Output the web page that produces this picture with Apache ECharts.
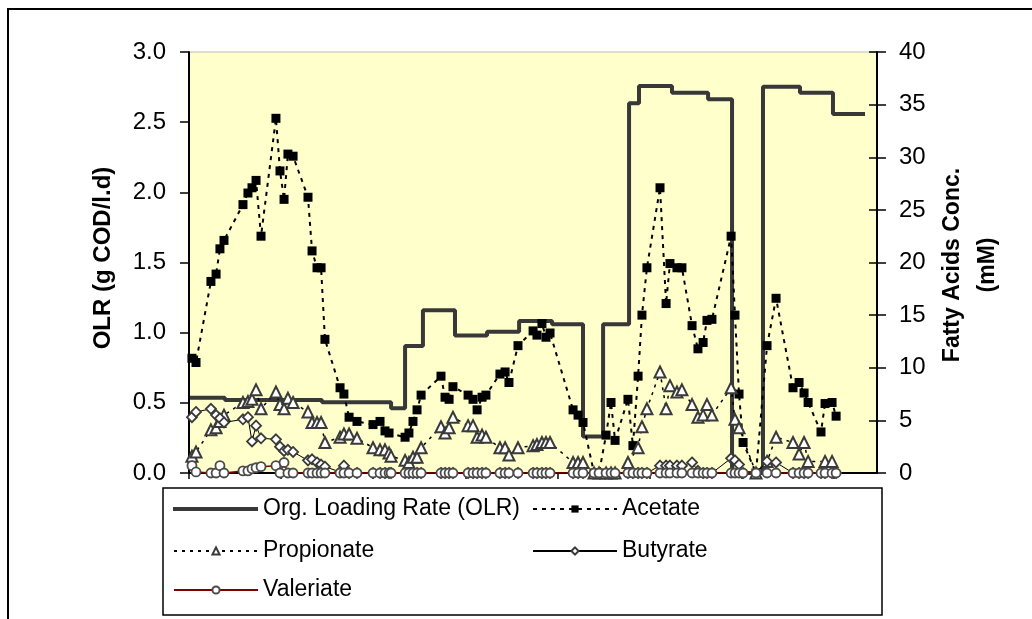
<!DOCTYPE html>
<html><head><meta charset="utf-8">
<script src="https://cdn.jsdelivr.net/npm/echarts@6/dist/echarts.min.js"></script>
<style>html,body{margin:0;padding:0;background:#fff}#c{width:1032px;height:619px}</style>
</head><body><div id="c"></div>
<script>
// Sampling days (x) shared by all fatty-acid series
const sampleDays = [1.6,3.8,11.9,14.7,16.8,19.0,29.3,32.0,34.2,36.4,39.1,47.2,49.4,51.6,53.7,56.5,64.6,66.8,69.5,71.7,
  73.8,82.0,84.1,86.9,91.2,99.9,103.7,106.4,108.6,109.7,117.3,119.4,121.6,123.8,126.0,136.8,139.0,141.2,143.3,151.5,
  154.2,156.4,159.1,161.2,168.8,171.6,173.7,178.6,186.8,188.9,191.6,193.8,196.0,208.5,211.2,213.9,219.9,222.6,226.4,229.1,
  231.3,238.3,241.0,243.8,245.9,248.6,255.7,259.0,261.1,264.9,267.6,273.1,276.3,279.1,281.2,283.9,294.3,296.4,298.6,300.8,
  307.8,313.8,318.7,327.9,331.2,333.9,336.1,343.1,345.3,349.1,351.3];
const acetate = [10.9,10.5,18.2,18.9,21.3,22.1,25.5,26.6,27.1,27.8,22.5,33.7,28.7,26.0,30.3,30.1,26.2,21.1,19.5,19.5,
  12.7,8.1,7.5,5.3,4.9,4.6,4.9,4.0,3.8,null,3.4,3.8,4.9,6.0,7.4,9.2,7.2,7.0,8.2,7.4,
  7.0,6.0,7.2,7.4,9.4,9.6,8.6,12.1,13.5,13.1,14.2,12.9,13.3,6.0,5.5,4.8,0,0,3.6,6.7,
  3.1,7.0,2.6,9.2,15.0,19.5,27.1,16.1,19.9,19.5,19.5,14.0,11.8,12.4,14.5,14.6,22.5,15.0,7.5,2.9,
  0,12.1,16.6,8.1,8.6,7.6,6.7,3.9,6.6,6.7,5.4];
const propionate = [1.6,2.0,4.1,4.3,4.9,5.5,6.7,6.8,7.0,7.9,6.1,7.7,6.5,6.1,7.1,6.7,5.8,4.8,4.8,4.8,
  2.9,3.4,3.7,3.7,3.3,2.4,2.2,2.2,1.9,1.6,1.2,1.0,1.5,1.5,2.4,4.4,3.8,4.3,5.3,4.5,
  4.5,3.4,3.6,3.4,2.4,2.4,1.7,2.4,2.6,2.7,2.9,2.9,2.9,1.0,1.0,1.0,0,0,0,0,
  0,1.0,null,2.4,4.4,6.1,9.6,6.1,8.3,7.7,7.9,6.5,5.3,5.5,6.5,5.5,8.1,5.1,4.3,null,
  0,1.1,3.4,2.9,1.8,2.9,1.1,null,1.1,1.1,null];
const butyrate = [5.3,5.8,6.1,5.5,5.2,4.8,5.1,5.3,3.0,4.5,3.3,3.2,2.5,2.1,2.2,2.0,1.2,1.3,1.0,0.8,
  0.6,0.1,0.7,0,0,0,0,0,0,0,0,0,0,0,0,0,0,0,0,0,
  0,0,0,0,0,0,0,0,0,0,0,0,0,0,0,0,0,0,0,0,
  0,0,0,0,0,0,0.7,0.7,0.7,0.7,0.7,1.0,0.2,0,0,0,1.4,1.2,0.8,0,
  0,1.1,1.0,0,0,0,0,0,0,0,0];
const valeriate = [0.7,0.1,0,0,0.7,0,0.2,0.2,0.4,0.5,0.6,0.7,0,1.0,0,0,0,0,0,0,
  0,0,0,0,0,0,0,0,0,0,0,0,0,0,0,0,0,0,0,0,
  0,0,0,0,0,0,0,0,0,0,0,0,0,0,0,0,0,0,0,0,
  0,0,0,0,0,0,0,0,0,0,0,0,0,0,0,0,0,0,0,0,
  0,0,0,0,0,0,0,0,0,0,0];
// Organic loading rate step profile (segment start days, g COD/l.d)
const olrDays = [0.5,19.5,72.2,109.7,117.3,127.0,144.4,161.8,179.2,197.1,213.9,224.8,238.9,244.3,262.2,281.8,294.8,311.6,331.7,349.6,367.0];
const olrValues = [0.537,0.52,0.504,0.461,0.905,1.16,0.98,1.007,1.083,1.06,0.26,1.06,2.634,2.757,2.71,2.663,0,2.753,2.71,2.558,2.558];
const xTickDays = [0,50,100,150,200,250,300,350];
const names = ['Org. Loading Rate (OLR)','Acetate','Propionate','Butyrate','Valeriate'];

const zip = (xs, ys) => xs.map((x, i) => [x, ys[i]]);
const FONT = 'Liberation Sans';
const chart = echarts.init(document.getElementById('c'), null, {renderer: 'canvas'});
const legendText = {fontSize: 23, fontFamily: FONT, color: '#000', lineHeight: 26};
const mkLegend = (name, left, top, extra) => Object.assign({
  data: [name], left: left, top: top, orient: 'horizontal', padding: 0,
  itemWidth: 84, itemHeight: 9, selectedMode: false, textStyle: legendText
}, extra || {});

chart.setOption({
  animation: false,
  backgroundColor: '#fff',
  grid: {left: 189, right: 155, top: 52, bottom: 146, show: true, backgroundColor: '#FFFFCC', borderColor: '#bdbdbd', borderWidth: 1},
  xAxis: {
    type: 'value', min: 0, max: 373.5,
    axisLine: {show: true, onZero: false, lineStyle: {color: '#000', width: 2}},
    axisTick: {show: true, length: 6, customValues: xTickDays, lineStyle: {color: '#000', width: 1.5}},
    axisLabel: {show: false}, splitLine: {show: false}
  },
  yAxis: [
    {type: 'value', position: 'left', min: 0, max: 3, interval: 0.5,
     axisLine: {show: true, lineStyle: {color: '#000', width: 2}},
     axisTick: {show: true, length: 9, lineStyle: {color: '#000', width: 1.5}},
     axisLabel: {fontSize: 24, fontFamily: FONT, color: '#000', margin: 23, formatter: v => v.toFixed(1)},
     splitLine: {show: false}},
    {type: 'value', position: 'right', min: 0, max: 40, interval: 5,
     axisLine: {show: true, lineStyle: {color: '#000', width: 2}},
     axisTick: {show: true, length: 9, lineStyle: {color: '#000', width: 1.5}},
     axisLabel: {fontSize: 24, fontFamily: FONT, color: '#000', margin: 22},
     splitLine: {show: false}},
    {type: 'value', position: 'right', min: 0, max: 40, interval: 5,
     axisLine: {show: false},
     axisTick: {show: true, inside: true, length: 8, lineStyle: {color: '#000', width: 1.5}},
     axisLabel: {show: false}, splitLine: {show: false}}
  ],
  legend: [
    mkLegend(names[0], 173, 496, {data: [{name: names[0], icon: 'rect'}], itemWidth: 85, itemHeight: 4}),
    mkLegend(names[1], 532, 496),
    mkLegend(names[2], 173, 538),
    mkLegend(names[3], 532, 538),
    mkLegend(names[4], 173, 577)
  ],
  series: [
    {name: names[0], type: 'line', yAxisIndex: 0, step: 'end', showSymbol: false, symbol: 'none',
     data: zip(olrDays, olrValues), lineStyle: {color: '#383838', width: 4}, itemStyle: {color: '#383838'}, z: 2},
    {name: names[1], type: 'line', yAxisIndex: 1, connectNulls: true, symbol: 'rect', symbolSize: 9,
     data: zip(sampleDays, acetate), lineStyle: {color: '#000', width: 2, type: [4, 5]},
     itemStyle: {color: '#000', borderColor: '#000', borderWidth: 0}, z: 3},
    {name: names[2], type: 'line', yAxisIndex: 1, connectNulls: true, symbol: 'triangle', symbolSize: 11,
     data: zip(sampleDays, propionate), lineStyle: {color: '#000', width: 1.5, type: [3, 5]},
     itemStyle: {color: '#fff', borderColor: '#3a3a3a', borderWidth: 2}, z: 4},
    {name: names[3], type: 'line', yAxisIndex: 1, symbol: 'diamond', symbolSize: 10,
     data: zip(sampleDays, butyrate), lineStyle: {color: '#000', width: 1},
     itemStyle: {color: '#fff', borderColor: '#3a3a3a', borderWidth: 1.8}, z: 5},
    {name: names[4], type: 'line', yAxisIndex: 1, symbol: 'circle', symbolSize: 9,
     data: zip(sampleDays, valeriate), lineStyle: {color: '#800000', width: 1.5},
     itemStyle: {color: '#fff', borderColor: '#4a4a4a', borderWidth: 1.8}, z: 6}
  ],
  graphic: [
    {type: 'rect', silent: true, z: -1, shape: {x: 8, y: 9, width: 1200, height: 800}, style: {fill: 'none', stroke: '#000', lineWidth: 2}},
    {type: 'rect', silent: true, shape: {x: 163, y: 488, width: 719, height: 127}, style: {fill: 'none', stroke: '#000', lineWidth: 1.5}},
    {type: 'text', silent: true, x: 103, y: 258, rotation: Math.PI / 2,
     style: {text: 'OLR (g COD/l.d)', fontSize: 24, fontWeight: 'bold', fontFamily: FONT, fill: '#000', align: 'center', verticalAlign: 'middle'}},
    {type: 'text', silent: true, x: 953, y: 265, rotation: Math.PI / 2,
     style: {text: 'Fatty Acids Conc.', fontSize: 23, fontWeight: 'bold', fontFamily: FONT, fill: '#000', align: 'center', verticalAlign: 'middle'}},
    {type: 'text', silent: true, x: 988, y: 265, rotation: Math.PI / 2,
     style: {text: '(mM)', fontSize: 23, fontWeight: 'bold', fontFamily: FONT, fill: '#000', align: 'center', verticalAlign: 'middle'}}
  ]
});
</script></body></html>
